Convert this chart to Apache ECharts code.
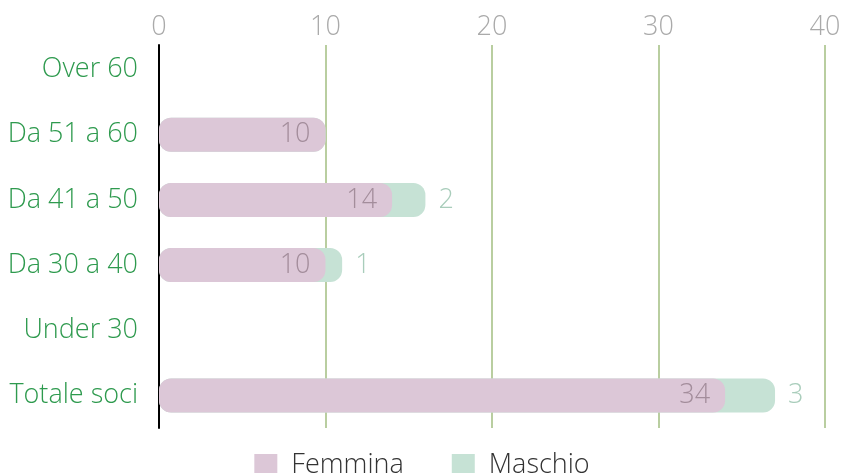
<!DOCTYPE html>
<html><head><meta charset="utf-8">
<script src="https://cdn.jsdelivr.net/npm/echarts@6/dist/echarts.min.js"></script>
<style>html,body{margin:0;padding:0;background:#fff}#c{width:844px;height:473px}</style>
</head><body><div id="c"></div>
<script>
const categories = ['Over 60','Da 51 a 60','Da 41 a 50','Da 30 a 40','Under 30','Totale soci'];
const femmina = [0,10,14,10,0,34];
const maschio = [0,0,2,1,0,3];
const xTicks = [0,10,20,30,40];

const FONT = 'Open Sans';
const FS = 27;
const totals = femmina.map((f,i)=>f+maschio[i]);
const chart = echarts.init(document.getElementById('c'));
chart.setOption({
  animation:false,
  textStyle:{fontFamily:FONT},
  grid:[
    {left:159,right:19,top:37,bottom:45},
    {left:159,right:19,top:45,bottom:45}
  ],
  legend:{
    data:['Femmina','Maschio'],
    top:447, left:'center',
    itemWidth:23,itemHeight:23,itemGap:48,
    icon:'rect',
    textStyle:{fontSize:FS,color:'#333',fontFamily:FONT,fontWeight:300,padding:[0,0,0,9]}
  },
  xAxis:[
    {type:'value',gridIndex:0,min:xTicks[0],max:xTicks[xTicks.length-1],interval:10,show:false},
    {type:'value',gridIndex:1,position:'top',min:xTicks[0],max:xTicks[xTicks.length-1],interval:10,
     axisLine:{show:false},axisTick:{show:false},
     axisLabel:{color:'#aaa',fontSize:FS,fontWeight:300,margin:4},
     splitLine:{lineStyle:{color:'#b9cea0',width:2}}}
  ],
  yAxis:[
    {type:'category',gridIndex:0,data:categories,inverse:true,
     axisLine:{show:false},axisTick:{show:false},
     axisLabel:{color:'#2e9a4e',fontSize:FS,fontWeight:300,margin:21}},
    {type:'category',gridIndex:1,data:categories,inverse:true,
     axisLine:{lineStyle:{color:'#000',width:2}},axisTick:{show:false},axisLabel:{show:false}}
  ],
  series:[
    {name:'Maschio',type:'bar',xAxisIndex:0,yAxisIndex:0,data:totals,barWidth:34,barGap:'-100%',z:2,
     itemStyle:{color:'#c6e2d5',borderRadius:12},
     label:{show:true,position:'right',distance:13,color:'#a9cdbb',fontSize:FS,fontWeight:300,
       formatter:p=>maschio[p.dataIndex]>0?String(maschio[p.dataIndex]):''}},
    {name:'Femmina',type:'bar',xAxisIndex:0,yAxisIndex:0,data:femmina,barWidth:34,z:3,
     itemStyle:{color:'#dcc7d7',borderRadius:12},
     label:{show:true,position:'insideRight',distance:15,color:'#a38d9b',fontSize:FS,fontWeight:300,
       formatter:p=>p.value>0?String(p.value):''}}
  ]
});
</script></body></html>
